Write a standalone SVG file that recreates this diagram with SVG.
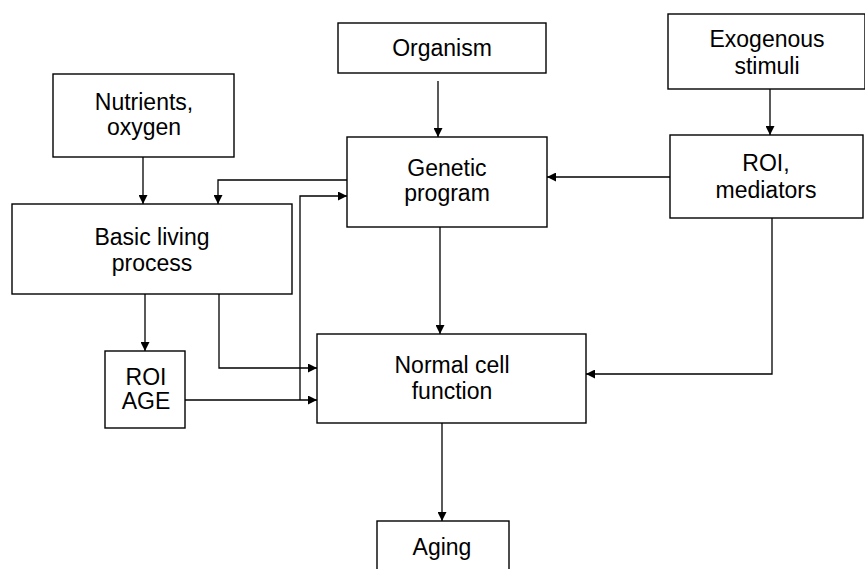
<svg xmlns="http://www.w3.org/2000/svg" width="865" height="569" viewBox="0 0 865 569">
<defs>
<style>
.box{fill:#fff;stroke:#000;stroke-width:1.4}
.t{font-family:"Liberation Sans",Arial,sans-serif;font-size:23px;fill:#000;text-anchor:middle}
.c{fill:none;stroke:#000;stroke-width:1.3}
</style>
<marker id="ah" viewBox="0 0 10 10" refX="10" refY="5" markerWidth="10" markerHeight="9" markerUnits="userSpaceOnUse" orient="auto">
<path d="M0,0 L10,5 L0,10 z" fill="#000"/>
</marker>
</defs>
<rect width="865" height="569" fill="#fff"/>
<g id="organism"><rect class="box" x="338" y="23" width="208" height="50"/><text class="t" x="442" y="56">Organism</text></g>
<g id="exogenous"><rect class="box" x="668" y="14" width="197" height="75"/><text class="t" x="767" y="47">Exogenous</text><text class="t" x="767" y="74">stimuli</text></g>
<g id="nutrients"><rect class="box" x="53" y="74" width="181" height="83"/><text class="t" x="144" y="110">Nutrients,</text><text class="t" x="144" y="135">oxygen</text></g>
<g id="genetic"><rect class="box" x="347" y="137" width="200" height="90"/><text class="t" x="447" y="176">Genetic</text><text class="t" x="447" y="201">program</text></g>
<g id="roi-mediators"><rect class="box" x="670" y="135" width="193" height="83"/><text class="t" x="766" y="171">ROI,</text><text class="t" x="766" y="198">mediators</text></g>
<g id="basic"><rect class="box" x="12" y="204" width="280" height="90"/><text class="t" x="152" y="245">Basic living</text><text class="t" x="152" y="271">process</text></g>
<g id="roi-age"><rect class="box" x="105" y="351" width="80" height="77"/><text class="t" x="146" y="385">ROI</text><text class="t" x="146" y="409">AGE</text></g>
<g id="normal"><rect class="box" x="317" y="334" width="269" height="89"/><text class="t" x="452" y="373">Normal cell</text><text class="t" x="452" y="399">function</text></g>
<g id="aging"><rect class="box" x="377" y="521" width="132" height="60"/><text class="t" x="442" y="555">Aging</text></g>
<g id="connectors">
<path class="c" d="M438,81 V137" marker-end="url(#ah)"/>
<path class="c" d="M770,89 V135" marker-end="url(#ah)"/>
<path class="c" d="M143,157 V204" marker-end="url(#ah)"/>
<path class="c" d="M670,177 H547" marker-end="url(#ah)"/>
<path class="c" d="M347,180 H218 V204" marker-end="url(#ah)"/>
<path class="c" d="M300,400 V196 H347" marker-end="url(#ah)"/>
<path class="c" d="M145,294 V351" marker-end="url(#ah)"/>
<path class="c" d="M219,294 V368 H317" marker-end="url(#ah)"/>
<path class="c" d="M185,400 H317" marker-end="url(#ah)"/>
<path class="c" d="M440,227 V334" marker-end="url(#ah)"/>
<path class="c" d="M772,218 V374 H586" marker-end="url(#ah)"/>
<path class="c" d="M442,423 V521" marker-end="url(#ah)"/>
</g>
</svg>
